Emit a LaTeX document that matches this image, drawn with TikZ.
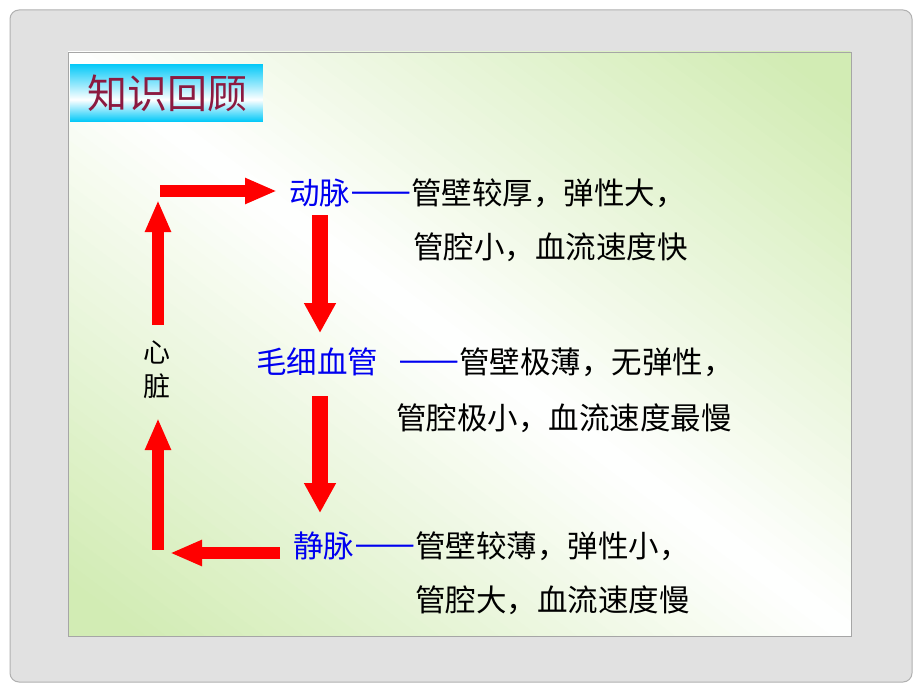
\documentclass[tikz,border=0pt]{standalone}
\usepackage{fontspec}
\setmainfont{Noto Sans CJK SC}
\newfontfamily\fwfont[CharacterWidth=Full, FakeBold=2.5]{Noto Sans CJK SC}
\usetikzlibrary{arrows.meta}
\definecolor{framegray}{HTML}{E1E1E1}
\definecolor{frameline}{HTML}{B0B0B0}
\definecolor{slideline}{HTML}{A6A6A6}
\definecolor{sgreen}{HTML}{D2ECB4}
\definecolor{tcyan}{HTML}{00C8F8}
\definecolor{maroon}{HTML}{8C1A40}
\definecolor{tblue}{HTML}{0000F0}
\newcommand{\dsh}{{\fwfont ——}}
\tikzset{
  redarrow/.style={draw=red, line width=12pt, line cap=butt, -{Triangle[length=32pt,width=24pt]}},
  bigarrow/.style={draw=red, line width=16pt, line cap=butt, -{Triangle[length=30pt,width=30pt]}},
  txt/.style={anchor=west, inner sep=0pt, font=\fontsize{30.5}{36}\selectfont},
  heart/.style={inner sep=0pt, font=\fontsize{27}{32}\selectfont},
}
\begin{document}
\begin{tikzpicture}[x=1pt,y=-1pt]
\useasboundingbox (0,0) rectangle (920,690);
\fill[white] (0,0) rectangle (920,690);
\draw[fill=framegray, draw=frameline, line width=1pt, rounded corners=9pt] (10,10) rectangle (912,682);
% slide background with diagonal gradient
\begin{scope}
\clip (68,52) rectangle (851,636);
\foreach \k in {-40,...,39}{
  \pgfmathsetmacro\ua{\k/40}
  \pgfmathsetmacro\ub{(\k+1)/40+0.006}
  \pgfmathsetmacro\pc{min(100,abs(\k+0.5)/40*110)}
  \fill[sgreen!\pc!white] (-715,{52+584*(\ua-1)}) -- (1634,{52+584*(\ua+2)}) -- (1634,{52+584*(\ub+2)}) -- (-715,{52+584*(\ub-1)}) -- cycle;
}
\end{scope}
\draw[slideline, line width=0.8pt] (68,52) rectangle (851,636);
% title box gradient
\foreach \i in {0,...,57}{
  \pgfmathsetmacro\yy{64+\i}
  \pgfmathsetmacro\pc{min(100,ifthenelse(\yy+0.5<100,(100-\yy-0.5)/36*100,(\yy+0.5-100)/22*100))}
  \fill[tcyan!\pc!white] (70,\yy) rectangle (263,{\yy+1.1});
}
\node[inner sep=0pt, text=maroon, font=\fontsize{40}{46}\selectfont] (title) at (167,93) {知识回顾};
% texts
\node[txt] (l1) at (289,193) {\textcolor{tblue}{动脉\dsh}管壁较厚，弹性大，};
\node[txt] (l2) at (413,247) {管腔小，血流速度快};
\node[txt] (l3) at (256,362) {\textcolor{tblue}{毛细血管\hspace{20pt}\dsh}管壁极薄，无弹性，};
\node[txt] (l4) at (396,418) {管腔极小，血流速度最慢};
\node[txt] (l5) at (293,546) {\textcolor{tblue}{静脉\dsh}管壁较薄，弹性小，};
\node[txt] (l6) at (415,600) {管腔大，血流速度慢};
\node[heart] (x1) at (157,352) {心};
\node[heart] (x2) at (157,386) {脏};
% arrow ends
\coordinate (a1s) at (158,325); \coordinate (a1e) at (158,200);
\coordinate (a2s) at (160,191); \coordinate (a2e) at (277,191);
\coordinate (a3s) at (320,215); \coordinate (a3e) at (320,333);
\coordinate (a4s) at (320,396); \coordinate (a4e) at (320,513);
\coordinate (a5s) at (280,553); \coordinate (a5e) at (170,553);
\coordinate (a6s) at (158,550); \coordinate (a6e) at (158,418);
\draw[redarrow] (a1s) -- (a1e);
\draw[redarrow] (a2s) -- (a2e);
\draw[bigarrow] (a3s) -- (a3e);
\draw[bigarrow] (a4s) -- (a4e);
\draw[redarrow] (a5s) -- (a5e);
\draw[redarrow] (a6s) -- (a6e);
\end{tikzpicture}
\end{document}
